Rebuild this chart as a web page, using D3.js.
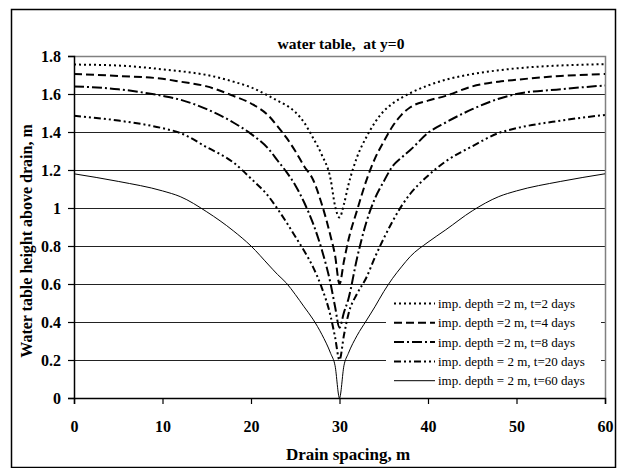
<!DOCTYPE html>
<html>
<head>
<meta charset="utf-8">
<script src="https://cdn.jsdelivr.net/npm/d3@7"></script>
<style>
  html, body { margin: 0; padding: 0; background: #fff; }
  svg { display: block; font-family: "Liberation Serif", "Times New Roman", serif; }
</style>
</head>
<body>
<svg id="chart" width="619" height="468"></svg>
<script>
// Distance along the drain spacing, m (drain at 30 m)
const spacing = [0, 5, 10, 12, 15, 18, 20, 22, 23, 24, 25, 26, 27, 28, 29, 29.5, 30,
                 30.5, 31, 32, 33, 34, 35, 36, 37, 38, 40, 42, 45, 48, 50, 55, 60];

// Water table height above drain, m, for each elapsed time
const day2  = [1.755, 1.75, 1.73, 1.72, 1.70, 1.665, 1.635, 1.59, 1.565, 1.54, 1.505, 1.45, 1.37, 1.28, 1.15, 1.01, 0.95,
               1.02, 1.12, 1.27, 1.37, 1.45, 1.51, 1.55, 1.58, 1.605, 1.645, 1.675, 1.705, 1.725, 1.735, 1.75, 1.757];
const day4  = [1.705, 1.695, 1.68, 1.665, 1.64, 1.59, 1.55, 1.485, 1.43, 1.37, 1.30, 1.22, 1.15, 1.02, 0.85, 0.75, 0.60,
               0.72, 0.83, 0.99, 1.14, 1.26, 1.35, 1.43, 1.49, 1.53, 1.565, 1.59, 1.64, 1.665, 1.675, 1.695, 1.705];
const day8  = [1.64, 1.625, 1.59, 1.57, 1.52, 1.45, 1.39, 1.31, 1.25, 1.19, 1.12, 1.03, 0.92, 0.78, 0.60, 0.48, 0.37,
               0.45, 0.52, 0.74, 0.92, 1.05, 1.14, 1.22, 1.265, 1.305, 1.395, 1.45, 1.52, 1.575, 1.60, 1.625, 1.645];
const day20 = [1.485, 1.46, 1.42, 1.395, 1.32, 1.24, 1.155, 1.06, 0.995, 0.925, 0.85, 0.775, 0.69, 0.58, 0.43, 0.32, 0.20,
               0.33, 0.44, 0.55, 0.63, 0.74, 0.84, 0.93, 1.01, 1.075, 1.17, 1.245, 1.325, 1.395, 1.42, 1.46, 1.49];
const day60 = [1.18, 1.14, 1.09, 1.06, 0.98, 0.88, 0.80, 0.70, 0.65, 0.605, 0.545, 0.48, 0.415, 0.335, 0.235, 0.17, 0,
               0.17, 0.235, 0.33, 0.405, 0.48, 0.56, 0.63, 0.69, 0.745, 0.82, 0.885, 0.985, 1.06, 1.09, 1.14, 1.18];

const seriesNames = [
  "imp. depth =2 m, t=2 days",
  "imp. depth =2 m, t=4 days",
  "imp. depth =2 m, t=8 days",
  "imp. depth = 2 m, t=20 days",
  "imp. depth = 2 m, t=60 days"
];
const xTicks = [0, 10, 20, 30, 40, 50, 60];
const yTicks = [0, 0.2, 0.4, 0.6, 0.8, 1, 1.2, 1.4, 1.6, 1.8];

const seriesValues = [day2, day4, day8, day20, day60];
const lineStyles = [
  { dash: "2,3",            width: 2 },
  { dash: "8,4",            width: 2 },
  { dash: "10,3,2,3",       width: 2 },
  { dash: "7,3,2,3,2,3",    width: 2 },
  { dash: null,             width: 1 }
];

const svg = d3.select("#chart");
const plot = { left: 74, right: 605, top: 56, bottom: 398 };

// outer frame
svg.append("rect")
  .attr("x", 11.5).attr("y", 9.5)
  .attr("width", 604).attr("height", 458)
  .attr("fill", "#fff").attr("stroke", "#000").attr("stroke-width", 1.5);

const x = d3.scaleLinear().domain([0, 60]).range([plot.left, plot.right]);
const y = d3.scaleLinear().domain([0, 1.8]).range([plot.bottom, plot.top]);

// horizontal gridlines
svg.append("g")
  .selectAll("line")
  .data(yTicks.filter(v => v > 0 && v < 1.8))
  .join("line")
  .attr("x1", plot.left).attr("x2", plot.right)
  .attr("y1", d => Math.round(y(d)) + 0.5).attr("y2", d => Math.round(y(d)) + 0.5)
  .attr("stroke", "#222").attr("stroke-width", 1.2);

// plot-area border (top and right)
svg.append("path")
  .attr("d", `M${plot.left},${plot.top + 0.5}H${plot.right + 0.5}V${plot.bottom}`)
  .attr("fill", "none").attr("stroke", "#808080").attr("stroke-width", 1.5);

// series lines
const line = d3.line()
  .x((d, i) => x(spacing[i]))
  .y(d => y(d))
  .curve(d3.curveMonotoneX);

seriesValues.forEach((vals, k) => {
  svg.append("path")
    .datum(vals)
    .attr("d", line)
    .attr("fill", "none")
    .attr("stroke", "#000")
    .attr("stroke-width", lineStyles[k].width)
    .attr("stroke-dasharray", lineStyles[k].dash);
});

// axes
const yAxis = d3.axisLeft(y).tickValues(yTicks).tickSize(6).tickPadding(7)
  .tickFormat(d => d3.format("~g")(d));
const xAxis = d3.axisBottom(x).tickValues(xTicks).tickSize(6).tickPadding(17);

const gy = svg.append("g").attr("transform", `translate(${plot.left},0)`).call(yAxis);
const gx = svg.append("g").attr("transform", `translate(0,${plot.bottom})`).call(xAxis);

[gx, gy].forEach(g => {
  g.select(".domain").attr("stroke", "#000").attr("stroke-width", 1.5);
  g.selectAll(".tick line").attr("stroke", "#000").attr("stroke-width", 1.2);
  g.selectAll(".tick text")
    .attr("fill", "#000")
    .style("font-family", "'Liberation Serif', serif")
    .style("font-weight", "bold")
    .style("font-size", "16px");
});

// legend
const legend = svg.append("g");
legend.append("rect")
  .attr("x", 386).attr("y", 293)
  .attr("width", 215).attr("height", 98)
  .attr("fill", "#fff");
const rowY = d => 303.5 + d * 19.3;
seriesNames.forEach((name, k) => {
  legend.append("line")
    .attr("x1", 394).attr("x2", 435)
    .attr("y1", rowY(k)).attr("y2", rowY(k))
    .attr("stroke", "#000")
    .attr("stroke-width", lineStyles[k].width)
    .attr("stroke-dasharray", lineStyles[k].dash);
  legend.append("text")
    .attr("x", 438).attr("y", rowY(k))
    .attr("dy", "0.35em")
    .style("font-size", "13px")
    .text(name);
});

// titles
svg.append("text")
  .attr("x", 341).attr("y", 49)
  .attr("text-anchor", "middle")
  .style("font-size", "15.5px").style("font-weight", "bold")
  .style("white-space", "pre")
  .text("water table,  at y=0");

svg.append("text")
  .attr("x", 348).attr("y", 460)
  .attr("text-anchor", "middle")
  .style("font-size", "17px").style("font-weight", "bold")
  .text("Drain spacing, m");

svg.append("text")
  .attr("transform", `translate(32,${(plot.top + plot.bottom) / 2 + 14}) rotate(-90)`)
  .attr("text-anchor", "middle")
  .style("font-size", "16px").style("font-weight", "bold")
  .text("Water table height above drain, m");
</script>
</body>
</html>
